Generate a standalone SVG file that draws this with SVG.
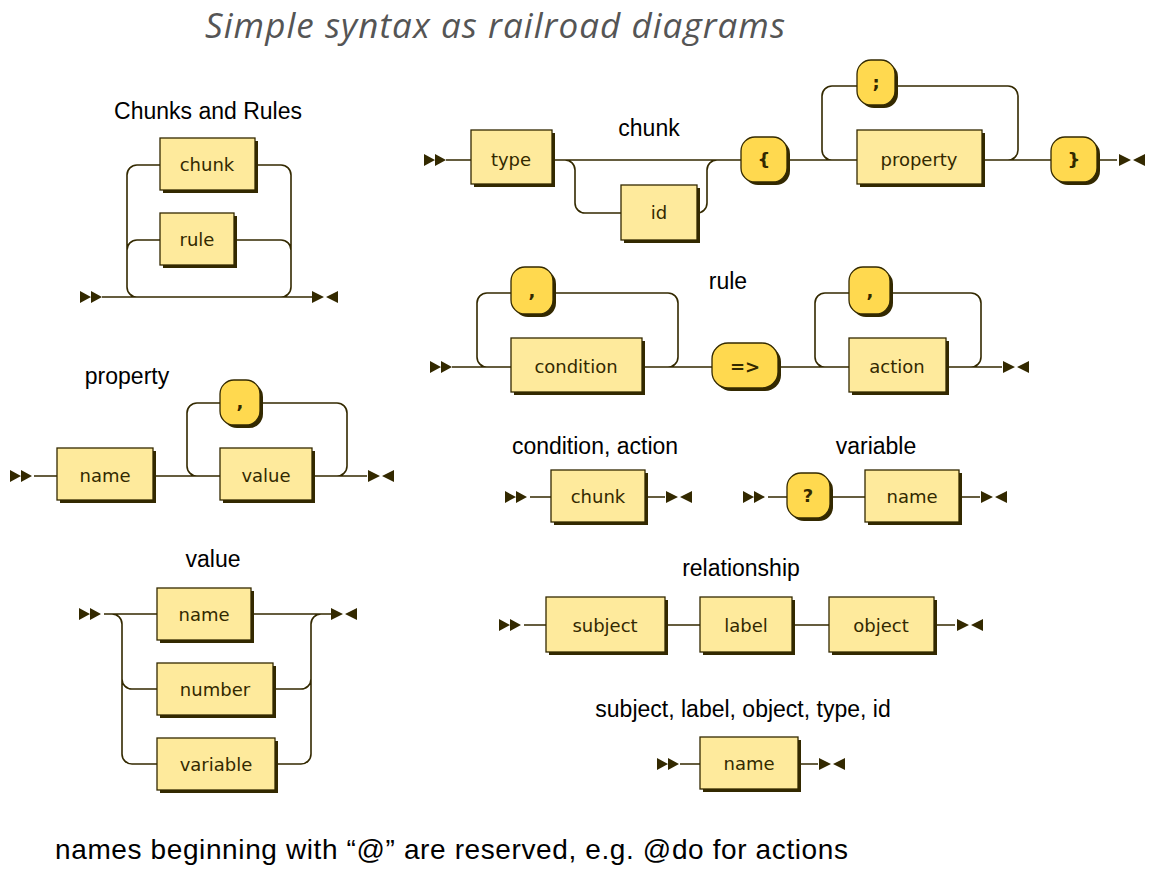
<svg xmlns="http://www.w3.org/2000/svg" width="1164" height="879" viewBox="0 0 1164 879">
<style>
.ln{fill:none;stroke:#332900;stroke-width:1.6}
.sh{fill:#332900}
.nt{fill:#FEEA9C;stroke:#332900;stroke-width:1.3}
.t{fill:#FFD94F;stroke:#332900;stroke-width:1.3}
.bx{font-family:"DejaVu Sans",sans-serif;font-size:18px;fill:#332900;text-anchor:middle}
.lb{font-family:"Liberation Sans",Arial,sans-serif;font-size:23px;fill:#000;text-anchor:middle}
.mk{fill:#332900}
</style>
<defs>
<path id="st" d="M0,-6 L11,0 L0,6z M11,-6 L22,0 L11,6z"/>
<path id="en" d="M0,-6 L12,0 L0,6z M26,-6 L14,0 L26,6z"/>
</defs>
<rect width="1164" height="879" fill="#fff"/>
<text x="495" y="38" font-family="'Open Sans',sans-serif" font-style="italic" font-size="35" fill="#555" text-anchor="middle" textLength="580">Simple syntax as railroad diagrams</text>

<g id="labels">
<text class="lb" x="208" y="119">Chunks and Rules</text>
<text class="lb" x="649" y="136">chunk</text>
<text class="lb" x="728" y="289">rule</text>
<text class="lb" x="127" y="384">property</text>
<text class="lb" x="595" y="454">condition, action</text>
<text class="lb" x="876" y="454">variable</text>
<text class="lb" x="213" y="567">value</text>
<text class="lb" x="741" y="576">relationship</text>
<text class="lb" x="743" y="717">subject, label, object, type, id</text>
<text x="55" y="859" font-family="'Liberation Sans',Arial,sans-serif" font-size="28" fill="#000" textLength="793">names beginning with “@” are reserved, e.g. @do for actions</text>
</g>

<g id="connectors">
<path class="ln" d="M102,297 H312 M160,165 H137 A10,10 0 0 0 127,175 V287 A10,10 0 0 0 137,297 M160,240 H137 A10,10 0 0 0 127,250 M258,165 H281 A10,10 0 0 1 291,175 V287 A10,10 0 0 1 281,297 M237,240 H281 A10,10 0 0 1 291,250"/>
<path class="ln" d="M446,160 H471 M555,160 H741 M555,160 H565 A10,10 0 0 1 575,170 V203 A10,10 0 0 0 585,213 H621 M700,213 H697 A10,10 0 0 0 707,203 V170 A10,10 0 0 1 717,160 M790,160 H857 M832,160 A10,10 0 0 1 822,150 V96 A10,10 0 0 1 832,86 H857 M898,86 H1008 A10,10 0 0 1 1018,96 V150 A10,10 0 0 1 1008,160 M985,160 H1051 M1100,160 H1117"/>
<path class="ln" d="M452,367 H511 M487,367 A10,10 0 0 1 477,357 V303 A10,10 0 0 1 487,293 H511 M556,293 H668 A10,10 0 0 1 678,303 V357 A10,10 0 0 1 668,367 M645,367 H712 M781,367 H849 M825,367 A10,10 0 0 1 815,357 V303 A10,10 0 0 1 825,293 H849 M893,293 H971 A10,10 0 0 1 981,303 V357 A10,10 0 0 1 971,367 M949,367 H1002"/>
<path class="ln" d="M34,476 H57 M156,476 H220 M197,476 A10,10 0 0 1 187,466 V413 A10,10 0 0 1 197,403 H220 M263,403 H337 A10,10 0 0 1 347,413 V466 A10,10 0 0 1 337,476 M315,476 H367"/>
<path class="ln" d="M530,497 H551 M648,497 H665 M768,497 H787 M833,497 H865 M962,497 H980"/>
<path class="ln" d="M104,614 H157 M254,614 H331 M112,614 A10,10 0 0 1 122,624 V754 A10,10 0 0 0 132,764 H157 M122,679 A10,10 0 0 0 132,689 H157 M276,689 H301 A10,10 0 0 0 311,679 V624 A10,10 0 0 1 321,614 M278,764 H301 A10,10 0 0 0 311,754 V679"/>
<path class="ln" d="M524,625 H546 M668,625 H700 M795,625 H829 M937,625 H955 M680,764 H700 M801,764 H818"/>
<g class="mk">
<use href="#st" x="80" y="297"/><use href="#en" x="312" y="297"/>
<use href="#st" x="424" y="160"/><use href="#en" x="1119" y="160"/>
<use href="#st" x="430" y="367"/><use href="#en" x="1003" y="367"/>
<use href="#st" x="10" y="476"/><use href="#en" x="368" y="476"/>
<use href="#st" x="505" y="497"/><use href="#en" x="666" y="497"/>
<use href="#st" x="743" y="497"/><use href="#en" x="981" y="497"/>
<use href="#st" x="79" y="614"/><use href="#en" x="331" y="614"/>
<use href="#st" x="499" y="625"/><use href="#en" x="957" y="625"/>
<use href="#st" x="657" y="764"/><use href="#en" x="819" y="764"/>
</g>
</g>

<g id="n-chunk1"><rect class="sh" x="163" y="141" width="95" height="52"/><rect class="nt" x="160" y="138" width="95" height="52"/><text class="bx" x="207" y="171">chunk</text></g>
<g id="n-rule1"><rect class="sh" x="163" y="216" width="74" height="52"/><rect class="nt" x="160" y="213" width="74" height="52"/><text class="bx" x="197" y="246">rule</text></g>

<g id="n-type"><rect class="sh" x="474" y="133" width="81" height="54"/><rect class="nt" x="471" y="130" width="81" height="54"/><text class="bx" x="511" y="166">type</text></g>
<g id="n-id"><rect class="sh" x="624" y="188" width="76" height="55"/><rect class="nt" x="621" y="185" width="76" height="55"/><text class="bx" x="659" y="219">id</text></g>
<g id="t-lbrace"><rect class="sh" x="744" y="140" width="46" height="45" rx="14"/><rect class="t" x="741" y="137" width="46" height="45" rx="14"/><text class="bx" x="764" y="166" font-weight="bold">{</text></g>
<g id="n-property"><rect class="sh" x="860" y="133" width="125" height="54"/><rect class="nt" x="857" y="130" width="125" height="54"/><text class="bx" x="919" y="166">property</text></g>
<g id="t-semi"><rect class="sh" x="860" y="63" width="38" height="45" rx="14"/><rect class="t" x="857" y="60" width="38" height="45" rx="14"/><text class="bx" x="876" y="89" font-weight="bold">;</text></g>
<g id="t-rbrace"><rect class="sh" x="1054" y="140" width="46" height="45" rx="14"/><rect class="t" x="1051" y="137" width="46" height="45" rx="14"/><text class="bx" x="1074" y="166" font-weight="bold">}</text></g>

<g id="t-comma1"><rect class="sh" x="514" y="270" width="42" height="47" rx="14"/><rect class="t" x="511" y="267" width="42" height="47" rx="14"/><text class="bx" x="532" y="297" font-weight="bold">,</text></g>
<g id="n-condition"><rect class="sh" x="514" y="341" width="131" height="54"/><rect class="nt" x="511" y="338" width="131" height="54"/><text class="bx" x="576" y="373">condition</text></g>
<g id="t-arrow"><rect class="sh" x="715" y="346" width="66" height="45" rx="16"/><rect class="t" x="712" y="343" width="66" height="45" rx="16"/><text class="bx" x="745" y="373" font-weight="bold">=&gt;</text></g>
<g id="t-comma2"><rect class="sh" x="852" y="270" width="41" height="47" rx="14"/><rect class="t" x="849" y="267" width="41" height="47" rx="14"/><text class="bx" x="870" y="297" font-weight="bold">,</text></g>
<g id="n-action"><rect class="sh" x="852" y="341" width="97" height="54"/><rect class="nt" x="849" y="338" width="97" height="54"/><text class="bx" x="897" y="373">action</text></g>

<g id="n-name1"><rect class="sh" x="60" y="451" width="96" height="52"/><rect class="nt" x="57" y="448" width="96" height="52"/><text class="bx" x="105" y="482">name</text></g>
<g id="t-comma3"><rect class="sh" x="223" y="383" width="40" height="45" rx="14"/><rect class="t" x="220" y="380" width="40" height="45" rx="14"/><text class="bx" x="240" y="408" font-weight="bold">,</text></g>
<g id="n-value"><rect class="sh" x="223" y="451" width="92" height="52"/><rect class="nt" x="220" y="448" width="92" height="52"/><text class="bx" x="266" y="482">value</text></g>

<g id="n-chunk2"><rect class="sh" x="554" y="473" width="94" height="52"/><rect class="nt" x="551" y="470" width="94" height="52"/><text class="bx" x="598" y="503">chunk</text></g>
<g id="t-q"><rect class="sh" x="790" y="476" width="43" height="45" rx="14"/><rect class="t" x="787" y="473" width="43" height="45" rx="14"/><text class="bx" x="808" y="502" font-weight="bold">?</text></g>
<g id="n-name2"><rect class="sh" x="868" y="473" width="94" height="52"/><rect class="nt" x="865" y="470" width="94" height="52"/><text class="bx" x="912" y="503">name</text></g>

<g id="n-name3"><rect class="sh" x="160" y="591" width="94" height="52"/><rect class="nt" x="157" y="588" width="94" height="52"/><text class="bx" x="204" y="621">name</text></g>
<g id="n-number"><rect class="sh" x="160" y="666" width="116" height="52"/><rect class="nt" x="157" y="663" width="116" height="52"/><text class="bx" x="215" y="696">number</text></g>
<g id="n-variable"><rect class="sh" x="160" y="741" width="118" height="52"/><rect class="nt" x="157" y="738" width="118" height="52"/><text class="bx" x="216" y="771">variable</text></g>

<g id="n-subject"><rect class="sh" x="549" y="600" width="119" height="55"/><rect class="nt" x="546" y="597" width="119" height="55"/><text class="bx" x="605" y="632">subject</text></g>
<g id="n-label"><rect class="sh" x="703" y="600" width="92" height="55"/><rect class="nt" x="700" y="597" width="92" height="55"/><text class="bx" x="746" y="632">label</text></g>
<g id="n-object"><rect class="sh" x="832" y="600" width="105" height="55"/><rect class="nt" x="829" y="597" width="105" height="55"/><text class="bx" x="881" y="632">object</text></g>

<g id="n-name4"><rect class="sh" x="703" y="740" width="98" height="52"/><rect class="nt" x="700" y="737" width="98" height="52"/><text class="bx" x="749" y="770">name</text></g>
</svg>
